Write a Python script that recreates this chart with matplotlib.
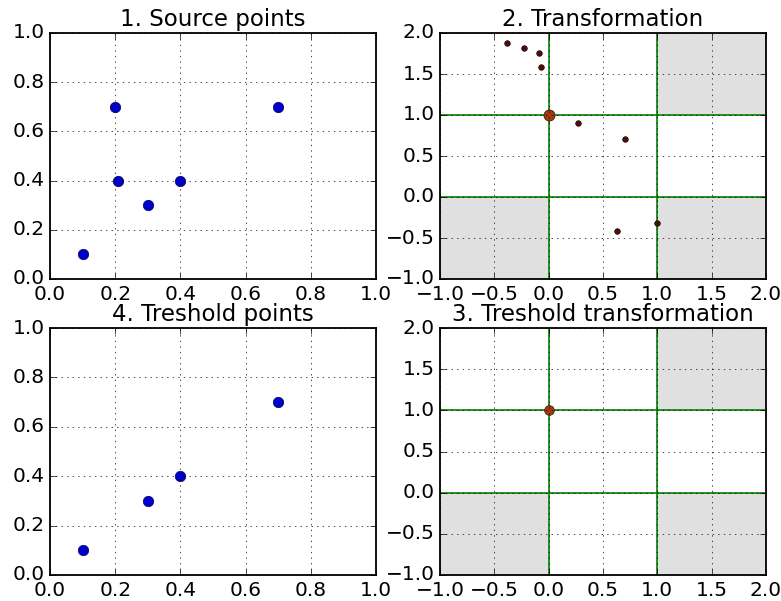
import matplotlib
matplotlib.use('Agg')
import matplotlib.pyplot as plt

plt.style.use('classic')
plt.rcParams['xtick.labelsize'] = 14.5
plt.rcParams['ytick.labelsize'] = 14.5
plt.rcParams['axes.linewidth'] = 1.3

# source points
src_x = [0.1, 0.2, 0.21, 0.3, 0.4, 0.7]
src_y = [0.1, 0.7, 0.4, 0.3, 0.4, 0.7]

# transformed points
tr_x = [-0.38, -0.23, -0.09, -0.07, 0.27, 0.70, 0.63, 1.0]
tr_y = [1.88, 1.82, 1.76, 1.59, 0.90, 0.71, -0.42, -0.32]

# reference point
ref_x = [0.0]
ref_y = [1.0]

# threshold points
thr_x = [0.1, 0.3, 0.4, 0.7]
thr_y = [0.1, 0.3, 0.4, 0.7]

# gray regions (x0, x1, y0, y1)
regions = [(-1, 0, -1, 0), (1, 2, 1, 2), (1, 2, -1, 0)]

fig = plt.figure(figsize=(7.81, 6.01), dpi=100, facecolor='white')


def points_axes(ax, xs, ys, title):
    ax.plot(xs, ys, 'o', color='#0000cc', markeredgecolor='#000055',
            markersize=7.5)
    ax.set_xlim(0, 1)
    ax.set_ylim(0, 1)
    ax.grid(True)
    ax.set_title(title, fontsize=16.5)


def transform_axes(ax, xs, ys, title, ref_size):
    for x0, x1, y0, y1 in regions:
        ax.fill_between([x0, x1], y0, y1, color='#e0e0e0', linewidth=0)
    ax.axhline(0, color='green', linewidth=1.2)
    ax.axhline(1, color='green', linewidth=1.2)
    ax.axvline(0, color='green', linewidth=1.2)
    ax.axvline(1, color='green', linewidth=1.2)
    ax.plot(xs, ys, 'o', color='#5a0a0a', markeredgecolor='black',
            markersize=4)
    ax.plot(ref_x, ref_y, 'o', color='#a03a10', markeredgecolor='#301000',
            markersize=ref_size)
    ax.set_xlim(-1, 2)
    ax.set_ylim(-1, 2)
    ax.grid(True)
    ax.set_title(title, fontsize=16.5)


ax1 = fig.add_axes([50 / 781, 1 - 279 / 601, 326 / 781, 246 / 601])
points_axes(ax1, src_x, src_y, '1. Source points')

ax2 = fig.add_axes([440 / 781, 1 - 279 / 601, 326 / 781, 246 / 601])
transform_axes(ax2, tr_x, tr_y, '2. Transformation', 8)

ax4 = fig.add_axes([50 / 781, 1 - 575 / 601, 326 / 781, 247 / 601])
points_axes(ax4, thr_x, thr_y, '4. Treshold points')

ax3 = fig.add_axes([440 / 781, 1 - 575 / 601, 326 / 781, 247 / 601])
transform_axes(ax3, [], [], '3. Treshold transformation', 7)

fig.savefig('out.png', dpi=100, facecolor='white')
